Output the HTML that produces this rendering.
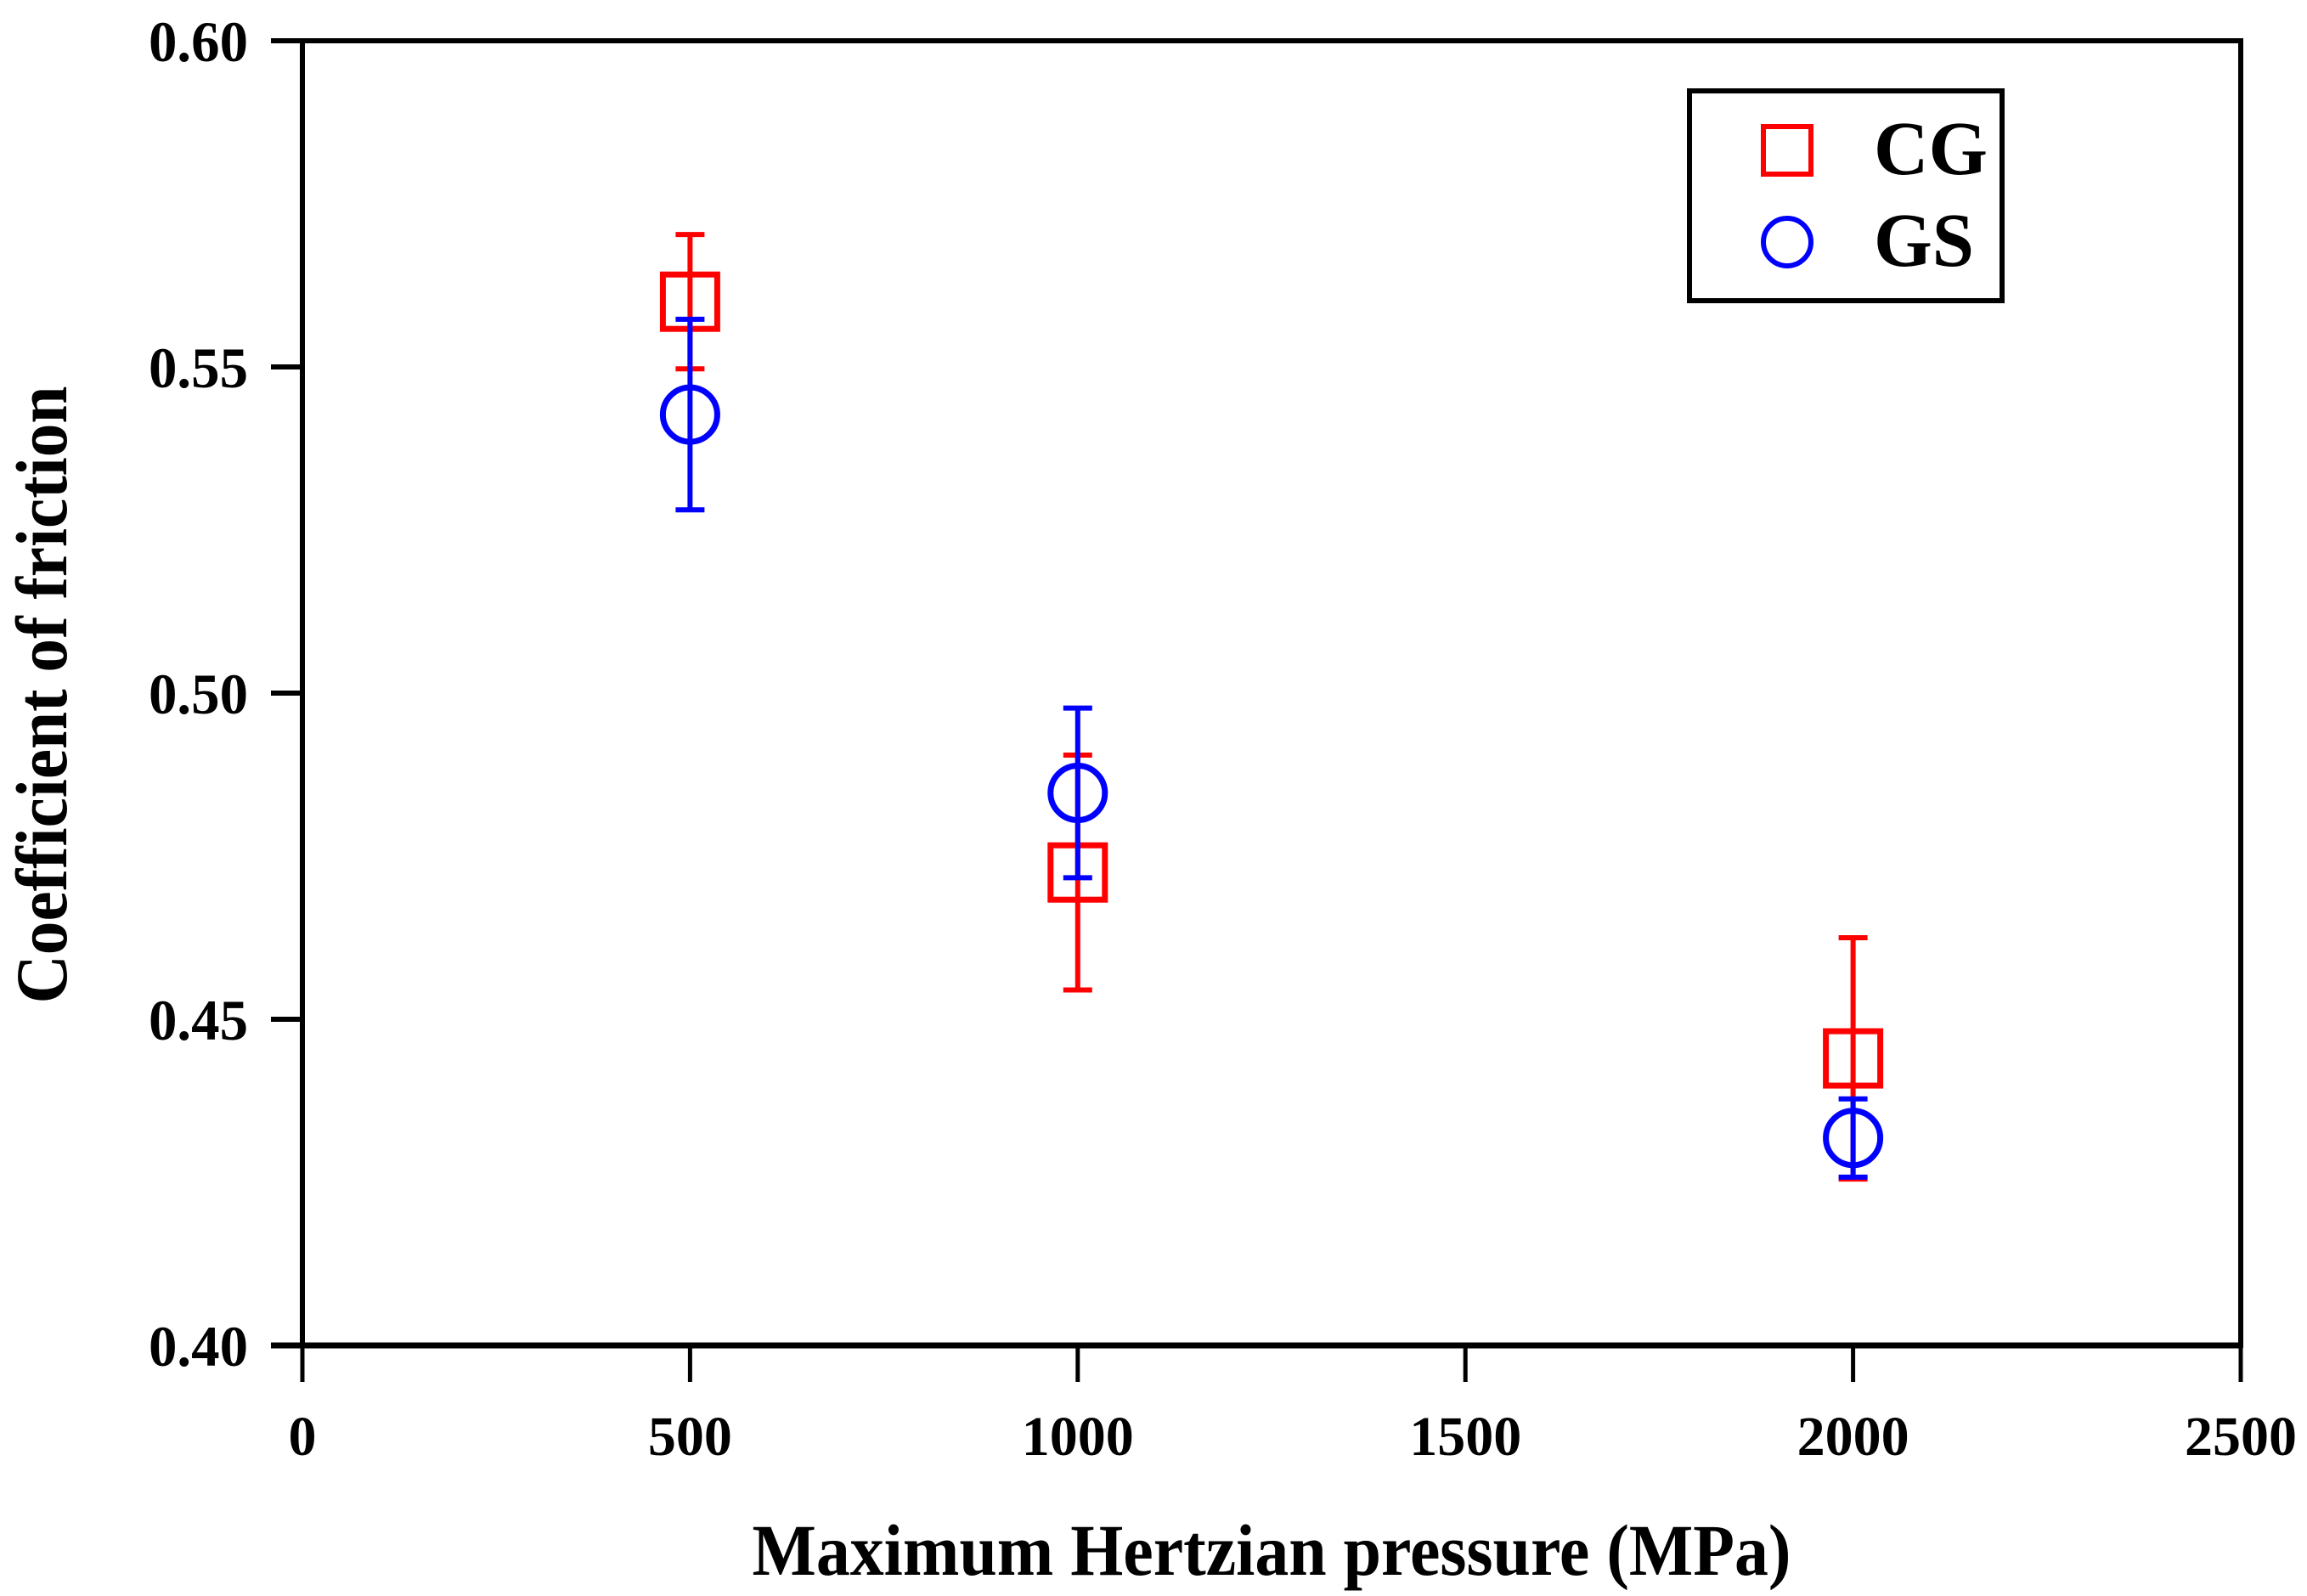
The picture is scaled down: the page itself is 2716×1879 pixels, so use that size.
<!DOCTYPE html>
<html><head><meta charset="utf-8"><style>
html,body{margin:0;padding:0;background:#fff;}
svg{display:block;}
text{font-family:"Liberation Serif","Times New Roman",serif;font-weight:bold;fill:#000;}
</style></head><body>
<svg id="chart" width="2716" height="1879" viewBox="0 0 2716 1879" xmlns="http://www.w3.org/2000/svg">
<g id="axes"></g>
<g id="marks"></g>
<g id="legend">
  <rect x="1989" y="107" width="368" height="247" fill="none" stroke="#000" stroke-width="6"/>
  <rect x="2076" y="149" width="56" height="56" fill="none" stroke="#f00" stroke-width="6"/>
  <text x="2206" y="205" font-size="90" textLength="134" lengthAdjust="spacingAndGlyphs">CG</text>
  <circle cx="2104" cy="285" r="28" fill="none" stroke="#00f" stroke-width="6"/>
  <text x="2206" y="313" font-size="90" textLength="118" lengthAdjust="spacingAndGlyphs">GS</text>
</g>
<text x="1497" y="1854" font-size="86" text-anchor="middle" textLength="1223" lengthAdjust="spacingAndGlyphs">Maximum Hertzian pressure (MPa)</text>
<text transform="translate(78,818) rotate(-90)" font-size="86" text-anchor="middle" textLength="727" lengthAdjust="spacingAndGlyphs">Coefficient of friction</text>
</svg>
<script>
const xTicks = [0, 500, 1000, 1500, 2000, 2500];
const yTicks = [0.40, 0.45, 0.50, 0.55, 0.60];
const pressures = [500, 1000, 2000];
const cgValues = [0.560, 0.4725, 0.444];
const cgErrors = [0.0103, 0.018, 0.0185];
const gsValues = [0.5427, 0.4847, 0.4318];
const gsErrors = [0.0146, 0.013, 0.006];

const NS = "http://www.w3.org/2000/svg";
const X0 = 356, X1 = 2638, Y0 = 1584, Y1 = 48;
function xs(v){ return X0 + (v - 0) / 2500 * (X1 - X0); }
function ys(v){ return Y0 - (v - 0.40) / 0.20 * (Y0 - Y1); }
function mk(tag, attrs, parent){
  const e = document.createElementNS(NS, tag);
  for (const k in attrs) e.setAttribute(k, attrs[k]);
  parent.appendChild(e);
  return e;
}
const axes = document.getElementById('axes');
const marks = document.getElementById('marks');

let f = mk('rect', {x:X0, y:Y1, width:X1-X0, height:Y0-Y1, fill:'none', stroke:'#000', 'stroke-width':6}, axes);


let b = mk('line', {x1:X0-37, x2:X1, y1:Y0, y2:Y0, stroke:'#000', 'stroke-width':7}, axes);



xTicks.forEach(t => {
  const l = mk('line', {x1:xs(t), x2:xs(t), y1:Y0, y2:Y0+43, stroke:'#000', 'stroke-width':5}, axes);
  
  
  const s = String(t);
  const tx = mk('text', {x:xs(t), y:1713, 'font-size':66, 'text-anchor':'middle', textLength: s.length * 33, lengthAdjust:'spacingAndGlyphs'}, axes);
  tx.textContent = s;
  
  
});
yTicks.forEach(t => {
  const l = mk('line', {x1:X0-37, x2:X0, y1:ys(t), y2:ys(t), stroke:'#000', 'stroke-width':6}, axes);
  
  
  const tx = mk('text', {x:292, y:ys(t)+24, 'font-size':68, 'text-anchor':'end', textLength:117, lengthAdjust:'spacingAndGlyphs'}, axes);
  tx.textContent = t.toFixed(2);
  
  
});

function errbar(x, v, e, color, name){
  const g = mk('g', {stroke:color, 'stroke-width':6, fill:'none'}, marks);
  
  
  const cx = xs(x), top = ys(v+e), bot = ys(v-e);
  mk('line', {x1:cx, x2:cx, y1:top, y2:bot}, g);
  mk('line', {x1:cx-17, x2:cx+17, y1:top, y2:top}, g);
  mk('line', {x1:cx-17, x2:cx+17, y1:bot, y2:bot}, g);
}
pressures.forEach((p, i) => {
  errbar(p, cgValues[i], cgErrors[i], '#f00', 'cg-error-bar');
  const s = mk('rect', {x:xs(p)-32, y:ys(cgValues[i])-32, width:64, height:64, fill:'none', stroke:'#f00', 'stroke-width':7}, marks);
  
  
});
pressures.forEach((p, i) => {
  errbar(p, gsValues[i], gsErrors[i], '#00f', 'gs-error-bar');
  const c = mk('circle', {cx:xs(p), cy:ys(gsValues[i]), r:32, fill:'none', stroke:'#00f', 'stroke-width':7}, marks);
  
  
});
</script>
</body></html>
